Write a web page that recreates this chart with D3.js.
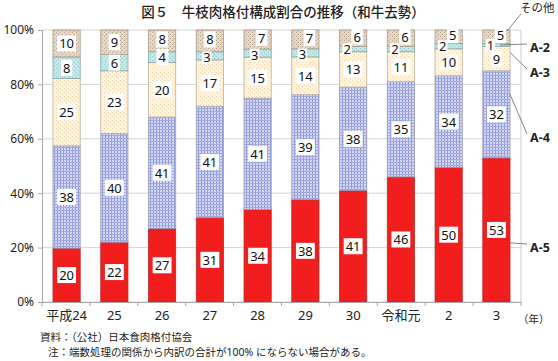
<!DOCTYPE html>
<html><head><meta charset="utf-8">
<script src="https://cdn.jsdelivr.net/npm/d3@7"></script>
<style>
body{margin:0;background:#fff;}
text{font-family:"Noto Sans","Noto Sans CJK JP",sans-serif;}
</style></head>
<body><svg id="c" width="558" height="361"></svg>
<script>
const years = ["平成24","25","26","27","28","29","30","令和元","2","3"];
const keys = ["A5","A4","A3","A2","other"];
const seriesNames = ["A-5","A-4","A-3","A-2","その他"];
const A5 = [20,22,27,31,34,38,41,46,50,53];
const A4 = [38,40,41,41,41,39,38,35,34,32];
const A3 = [25,23,20,17,15,14,13,11,10,9];
const A2 = [8,6,4,3,3,3,2,2,2,1];
const other = [10,9,8,8,7,7,6,6,5,5];
const yTicks = [0,0.2,0.4,0.6,0.8,1];

const data = years.map((y,i)=>({year:y,A5:A5[i],A4:A4[i],A3:A3[i],A2:A2[i],other:other[i]}));

const svg = d3.select("#c");
const M = {left:42, right:521, top:30, bottom:302};
const x = d3.scaleBand().domain(years).range([M.left,M.right]).paddingInner(0.43).paddingOuter(0.23);
const y = d3.scaleLinear().domain([0,1]).range([M.bottom,M.top]);

// patterns
const defs = svg.append("defs");
function pat(id, bg, size, draw){
  const p = defs.append("pattern").attr("id",id).attr("patternUnits","userSpaceOnUse").attr("width",size).attr("height",size);
  p.append("rect").attr("width",size).attr("height",size).attr("fill",bg);
  draw(p);
}
pat("pA4","#d4d8f3",3,p=>{
  p.append("rect").attr("x",0).attr("y",0).attr("width",1).attr("height",3).attr("fill","#929bda");
  p.append("rect").attr("x",0).attr("y",0).attr("width",3).attr("height",1).attr("fill","#a0a8df");
});
pat("pA3","#fdf5e8",4,p=>{
  p.append("rect").attr("x",0).attr("y",0).attr("width",1).attr("height",1).attr("fill","#f2d4a8");
  p.append("rect").attr("x",2).attr("y",2).attr("width",1).attr("height",1).attr("fill","#f2d4a8");
});
pat("pA2","#c6e5e5",4,p=>{
  p.append("rect").attr("x",0).attr("y",0).attr("width",1).attr("height",1).attr("fill","#98cbcb");
  p.append("rect").attr("x",2).attr("y",2).attr("width",1).attr("height",1).attr("fill","#98cbcb");
});
pat("pOther","#e4d8c9",4,p=>{
  p.append("rect").attr("x",0).attr("y",0).attr("width",1).attr("height",1).attr("fill","#bba78f");
  p.append("rect").attr("x",2).attr("y",2).attr("width",1).attr("height",1).attr("fill","#bba78f");
  p.append("rect").attr("x",1).attr("y",3).attr("width",1).attr("height",1).attr("fill","#cfc0ac");
});
const fills = {A5:"#f21e1e",A4:"url(#pA4)",A3:"url(#pA3)",A2:"url(#pA2)",other:"url(#pOther)"};
const strokes = {A5:"#b82a2a",A4:"#9a9aae",A3:"#b8b0a0",A2:"#8aa5a5",other:"#a59a8a"};

// title
svg.append("text").attr("x",283).attr("y",17).attr("text-anchor","middle")
  .attr("font-size",13.5).attr("font-weight",500).attr("fill","#222")
  .text("図５　牛枝肉格付構成割合の推移（和牛去勢）");

// grid
svg.append("g").selectAll("line").data(yTicks).join("line")
  .attr("x1",M.left).attr("x2",M.right).attr("y1",d=>y(d)).attr("y2",d=>y(d))
  .attr("stroke","#d4d4d4").attr("stroke-width",1);
svg.append("line").attr("x1",M.right).attr("x2",M.right).attr("y1",M.top).attr("y2",M.bottom).attr("stroke","#cfcfcf");

// y axis
const ya = svg.append("g").attr("transform",`translate(${M.left},0)`)
  .call(d3.axisLeft(y).tickValues(yTicks).tickFormat(d3.format(".0%")).tickSize(4).tickPadding(4));
ya.select(".domain").attr("stroke","#a8a8a8");
ya.selectAll(".tick line").attr("stroke","#a8a8a8");
ya.selectAll("text").attr("font-size",12).attr("fill","#222");

// stacks
const stack = d3.stack().keys(keys).offset(d3.stackOffsetExpand);
const series = stack(data);
const g = svg.append("g");
series.forEach(s=>{
  g.append("g").selectAll("rect").data(s).join("rect")
    .attr("x",d=>x(d.data.year)).attr("width",x.bandwidth())
    .attr("y",d=>y(d[1])).attr("height",d=>y(d[0])-y(d[1]))
    .attr("fill",fills[s.key]).attr("stroke",strokes[s.key]).attr("stroke-width",0.8);
});

// x axis
const xa = svg.append("g").attr("transform",`translate(0,${M.bottom})`)
  .call(d3.axisBottom(x).tickSize(0).tickPadding(9));
xa.select(".domain").attr("stroke","#a8a8a8");
xa.selectAll("text").attr("font-size",13).attr("fill","#222");
svg.append("g").selectAll("line").data(d3.range(years.length+1)).join("line")
  .attr("x1",i=>M.left+i*(M.right-M.left)/years.length).attr("x2",i=>M.left+i*(M.right-M.left)/years.length)
  .attr("y1",M.bottom).attr("y2",M.bottom+4).attr("stroke","#a8a8a8");
svg.append("text").attr("x",518).attr("y",323).attr("font-size",10.5).attr("fill","#222").text("（年）");

// value labels
const lab = svg.append("g");
series.forEach(s=>{
  s.forEach(d=>{
    const v = d.data[s.key];
    let cx = x(d.data.year)+x.bandwidth()/2;
    let cy = (y(d[0])+y(d[1]))/2;
    if (s.key==="A2" && v<=2) cx -= 6;
    if (s.key==="A2" && v===3) { cx -= 3; cy += 1.5; }
    if (s.key==="other" && v<=8) { cy -= 1.5; }
    if (s.key==="other" && v<=7) { cx += 4; }
    const t = lab.append("text").attr("x",cx).attr("y",cy).attr("text-anchor","middle")
      .attr("dominant-baseline","central").attr("font-size",13).attr("fill","#111").text(v);
    const bb = t.node().getBBox();
    if (s.key==="A2" && v<=3) {
      lab.insert("rect",()=>t.node()).attr("x",bb.x-1).attr("y",bb.y+3).attr("width",bb.width+2).attr("height",bb.height-6).attr("fill","#fff");
    } else {
      lab.insert("rect",()=>t.node()).attr("x",bb.x-2).attr("y",bb.y+1).attr("width",bb.width+4).attr("height",bb.height-2).attr("fill","#fff");
    }
  });
});

// series labels with leader lines
const last = series.map(s=>s[s.length-1]);
const bx = x(years[years.length-1])+x.bandwidth();
const legendY = {A5:247, A4:137, A3:72, A2:47};
keys.forEach((k,i)=>{
  const d = last[i];
  if (k==="other"){
    svg.append("line").attr("x1",bx-3).attr("y1",y(d[1])+1).attr("x2",521).attr("y2",14).attr("stroke","#666").attr("stroke-width",0.8);
    svg.append("text").attr("x",520).attr("y",12).attr("font-size",11.5).attr("fill","#222").text(seriesNames[i]);
    return;
  }
  const sy = k==="A2" ? (y(d[0])+y(d[1]))/2 : (k==="A3" ? y(d[1])+ (y(d[0])-y(d[1]))*0.25 : (y(d[0])+y(d[1]))/2 + (k==="A5"?13:-20));
  const sx = k==="A2" ? bx-10 : bx;
  svg.append("line").attr("x1",sx).attr("y1",sy).attr("x2",527).attr("y2",legendY[k]-3).attr("stroke","#666").attr("stroke-width",0.8);
  svg.append("text").attr("x",530).attr("y",legendY[k]).attr("dominant-baseline","central")
    .attr("font-size",12.5).attr("font-weight","bold").attr("fill","#222").text(seriesNames[i]);
});

// notes
svg.append("text").attr("x",40).attr("y",341).attr("font-size",10.5).attr("fill","#222").text("資料：（公社）日本食肉格付協会");
svg.append("text").attr("x",48).attr("y",356).attr("font-size",10.5).attr("fill","#222").text("注：端数処理の関係から内訳の合計が100% にならない場合がある。");
</script></body></html>
